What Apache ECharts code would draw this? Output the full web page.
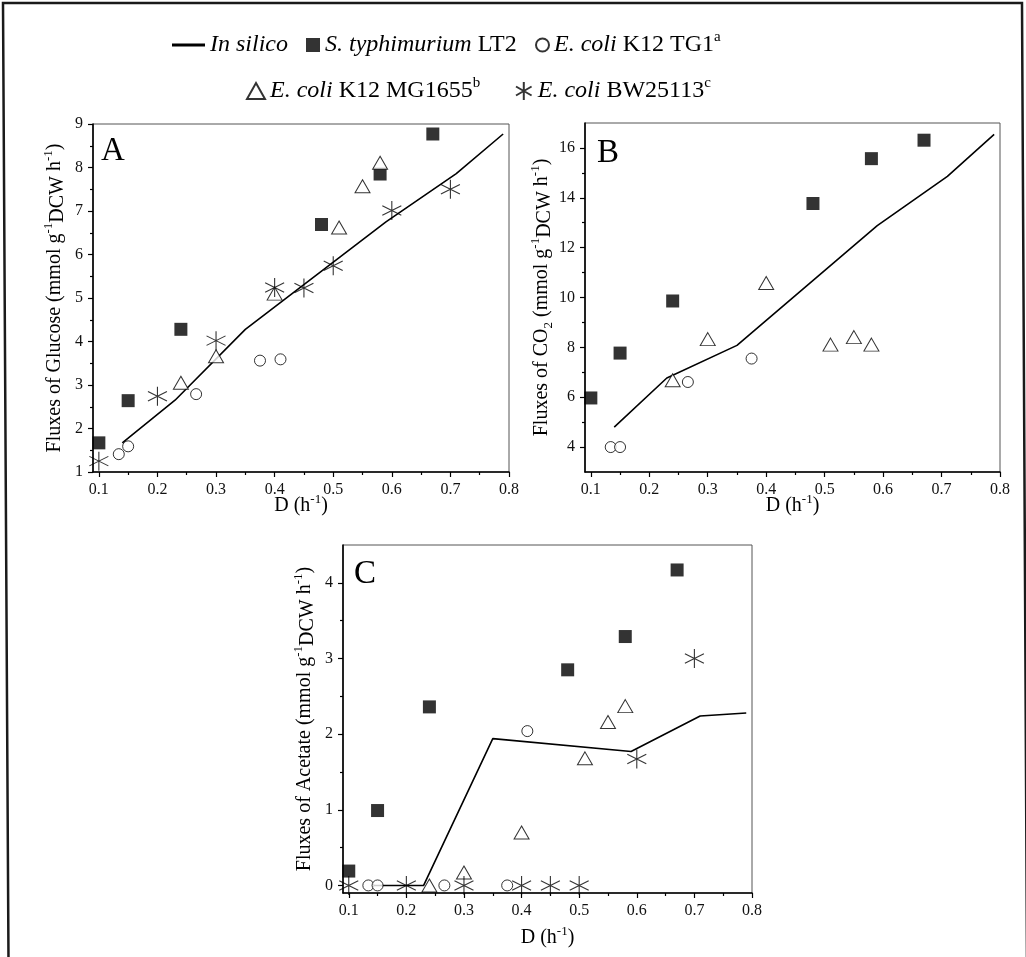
<!DOCTYPE html>
<html>
<head>
<meta charset="utf-8">
<script src="https://cdn.jsdelivr.net/npm/echarts@6/dist/echarts.min.js"></script>
<style>
  html, body { margin: 0; padding: 0; background: #fff; }
  #chart { width: 1026px; height: 957px; }
</style>
</head>
<body>
<div id="chart"></div>
<script>
// ---- Data: fluxes vs. dilution rate D (h^-1) ----
// In silico prediction
const inSilicoD       = [0.14, 0.23, 0.35, 0.59, 0.71, 0.79];
const inSilicoGlucose = [1.67, 2.65, 4.28, 6.75, 7.86, 8.77];
const inSilicoCO2     = [4.80, 6.77, 8.08, 12.88, 14.86, 16.54];
const inSilicoAcetate = [0, 0, 1.94, 1.77, 2.24, 2.28];

// S. typhimurium LT2
const lt2D       = [0.10, 0.15, 0.24, 0.48, 0.58, 0.67];
const lt2Glucose = [1.67, 2.64, 4.28, 6.69, 7.85, 8.77];
const lt2CO2     = [5.97, 7.77, 9.86, 13.77, 15.57, 16.31];
const lt2Acetate = [0.19, 0.99, 2.36, 2.85, 3.29, 4.17];

// E. coli K12 TG1
const tg1D       = [0.134, 0.15, 0.266, 0.375, 0.41];
const tg1Glucose = [1.41, 1.59, 2.79, 3.56, 3.59];
const tg1CO2     = [4.00, 4.00, 6.61, 7.55, null];
const tg1Acetate = [0, 0, 0, 0, 2.04];

// E. coli K12 MG1655
const mgD       = [0.24, 0.30, 0.40, 0.51, 0.55, 0.58];
const mgGlucose = [3.05, 3.66, 5.10, 6.62, 7.57, 8.11];
const mgCO2     = [6.68, 8.33, 10.58, 8.11, 8.41, 8.11];
const mgAcetate = [0, 0.17, 0.70, 1.68, 2.16, 2.37];

// E. coli BW25113
const bwD       = [0.10, 0.20, 0.30, 0.40, 0.45, 0.50, 0.60, 0.70];
const bwGlucose = [1.25, 2.74, 4.02, 5.24, 5.23, 5.74, 7.01, 7.50];
const bwCO2     = [null, null, null, null, null, null, null, null];
const bwAcetate = [0, 0, 0, 0, 0, 0, 1.67, 3.00];

// Tick values
const xTickLabels  = [0.1, 0.2, 0.3, 0.4, 0.5, 0.6, 0.7, 0.8];
const xMinorTicks  = [0.15, 0.25, 0.35, 0.45, 0.55, 0.65, 0.75];
const yTicksA      = [1, 2, 3, 4, 5, 6, 7, 8, 9];
const yMinorA      = [1.5, 2.5, 3.5, 4.5, 5.5, 6.5, 7.5, 8.5];
const yTicksB      = [4, 6, 8, 10, 12, 14, 16];
const yMinorB      = [5, 7, 9, 11, 13, 15];
const yTicksC      = [0, 1, 2, 3, 4];
const yMinorC      = [0.5, 1.5, 2.5, 3.5];

// Series names / legend labels
const NAME_SIM = 'In silico';
const NAME_LT2 = 'S. typhimurium LT2';
const NAME_TG1 = 'E. coli K12 TG1';
const NAME_MG  = 'E. coli K12 MG1655';
const NAME_BW  = 'E. coli BW25113';

const SERIF = "'Liberation Serif', 'Times New Roman', serif";
const STAR_PATH = 'path://M10,0V20M1.34,5L18.66,15M1.34,15L18.66,5';
const LINE_PATH = 'path://M0,0H33V3H0Z';

const pair = (xs, ys) => xs.map((x, i) => [x, ys[i]]).filter(p => p[1] !== null);

// ---- Layout of the three panels ----
const panels = [
  { grid: { left: 93, top: 124, width: 416, height: 348 },
    yMin: 1, yMax: 9, yTicks: yTicksA, yMinor: yMinorA,
    yName: 'Fluxes of Glucose (mmol g{sup|-1}{sub|DCW} h{sup|-1})', yGap: 25, xGap: 21,
    sim: inSilicoGlucose, lt2: lt2Glucose, tg1: tg1Glucose, mg: mgGlucose, bw: bwGlucose },
  { grid: { left: 585, top: 123, width: 415, height: 349 },
    yMin: 3, yMax: 17, yTicks: yTicksB, yMinor: yMinorB,
    yName: 'Fluxes of CO{sub2|2} (mmol g{sup|-1}{sub|DCW} h{sup|-1})', yGap: 30, xGap: 21,
    sim: inSilicoCO2, lt2: lt2CO2, tg1: tg1CO2, mg: mgCO2, bw: bwCO2 },
  { grid: { left: 343, top: 545, width: 409, height: 348 },
    yMin: -0.1, yMax: 4.5, yTicks: yTicksC, yMinor: yMinorC,
    yName: 'Fluxes of Acetate (mmol g{sup|-1}{sub|DCW} h{sup|-1})', yGap: 25, xGap: 32,
    sim: inSilicoAcetate, lt2: lt2Acetate, tg1: tg1Acetate, mg: mgAcetate, bw: bwAcetate }
];

const nameRich = {
  sup:  { fontFamily: SERIF, fontSize: 13, lineHeight: 13, verticalAlign: 'top', color: '#000' },
  sub:  { fontFamily: SERIF, fontSize: 20, lineHeight: 20, verticalAlign: 'bottom', color: '#000' },
  sub2: { fontFamily: SERIF, fontSize: 13, lineHeight: 13, verticalAlign: 'bottom', color: '#000' }
};
const nameStyle = { fontFamily: SERIF, fontSize: 20, lineHeight: 26, color: '#000', rich: nameRich };
const labelStyle = { fontFamily: SERIF, fontSize: 16, color: '#111' };
const axisLineStyle = { color: '#000', width: 1.6 };

const grids = [], xAxes = [], yAxes = [], series = [];

panels.forEach((p, i) => {
  grids.push(Object.assign({ show: true, borderColor: '#555', borderWidth: 1, backgroundColor: 'transparent' }, p.grid));

  // main x axis: labels and major ticks
  xAxes.push({
    type: 'value', gridIndex: i, position: 'bottom', min: 0.09, max: 0.8,
    name: 'D (h{sup|-1})', nameLocation: 'middle', nameGap: p.xGap, nameMoveOverlap: false,
    nameTextStyle: nameStyle,
    axisLine: { show: true, onZero: false, lineStyle: axisLineStyle },
    axisTick: { show: true, inside: false, length: 5, customValues: xTickLabels, lineStyle: { color: '#000', width: 1.2 } },
    axisLabel: { show: true, customValues: xTickLabels, margin: 10, hideOverlap: false, ...labelStyle },
    splitLine: { show: false }
  });
  // minor x ticks
  xAxes.push({
    type: 'value', gridIndex: i, position: 'bottom', min: 0.09, max: 0.8,
    axisLine: { show: false, onZero: false },
    axisTick: { show: true, inside: false, length: 3, customValues: xMinorTicks, lineStyle: { color: '#000', width: 1.2 } },
    axisLabel: { show: false }, splitLine: { show: false }
  });
  // main y axis
  yAxes.push({
    type: 'value', gridIndex: i, position: 'left', min: p.yMin, max: p.yMax,
    name: p.yName, nameLocation: 'middle', nameGap: p.yGap, nameMoveOverlap: false,
    nameTextStyle: nameStyle,
    axisLine: { show: true, onZero: false, lineStyle: axisLineStyle },
    axisTick: { show: true, inside: false, length: 5, customValues: p.yTicks, lineStyle: { color: '#000', width: 1.2 } },
    axisLabel: { show: true, customValues: p.yTicks, margin: 10, ...labelStyle },
    splitLine: { show: false }
  });
  // minor y ticks
  yAxes.push({
    type: 'value', gridIndex: i, position: 'left', min: p.yMin, max: p.yMax,
    axisLine: { show: false, onZero: false },
    axisTick: { show: true, inside: false, length: 3, customValues: p.yMinor, lineStyle: { color: '#000', width: 1.2 } },
    axisLabel: { show: false }, splitLine: { show: false }
  });

  const ax = { xAxisIndex: 2 * i, yAxisIndex: 2 * i, silent: true, animation: false };

  series.push(Object.assign({
    name: NAME_SIM, type: 'line', data: pair(inSilicoD, p.sim),
    showSymbol: false, symbol: 'none', z: 2,
    lineStyle: { color: '#000', width: 1.6 }, itemStyle: { color: '#000' }
  }, ax));
  series.push(Object.assign({
    name: NAME_LT2, type: 'scatter', data: pair(lt2D, p.lt2),
    symbol: 'rect', symbolSize: 13, z: 3, itemStyle: { color: '#000' }
  }, ax));
  series.push(Object.assign({
    name: NAME_TG1, type: 'scatter', data: pair(tg1D, p.tg1),
    symbol: 'circle', symbolSize: 11, z: 3,
    itemStyle: { color: '#fff', borderColor: '#000', borderWidth: 1 }
  }, ax));
  series.push(Object.assign({
    name: NAME_MG, type: 'scatter', data: pair(mgD, p.mg),
    symbol: 'triangle', symbolSize: [15, 13], z: 3,
    itemStyle: { color: '#fff', borderColor: '#000', borderWidth: 1 }
  }, ax));
  series.push(Object.assign({
    name: NAME_BW, type: 'scatter', data: pair(bwD, p.bw),
    symbol: STAR_PATH, symbolSize: 19, z: 4,
    itemStyle: { color: 'rgba(0,0,0,0)', borderColor: '#000', borderWidth: 1.1 }
  }, ax));
});

// ---- Legend (two rows) ----
const legendRich = {
  it:  { fontFamily: SERIF, fontStyle: 'italic', fontSize: 24, lineHeight: 30, color: '#000' },
  sup: { fontFamily: SERIF, fontSize: 15, lineHeight: 15, verticalAlign: 'top', color: '#000' }
};
const legendLabels = {
  [NAME_SIM]: '{it|In silico}',
  [NAME_LT2]: '{it|S. typhimurium} LT2',
  [NAME_TG1]: '{it|E. coli} K12 TG1{sup|a}',
  [NAME_MG]:  '{it|E. coli} K12 MG1655{sup|b}',
  [NAME_BW]:  '{it|E. coli} BW25113{sup|c}'
};
function legendItem(name, icon, w, h, left, top) {
  return {
    data: [{ name: name, icon: icon }],
    left: left, top: top, padding: 0, itemGap: 0,
    itemWidth: w, itemHeight: h, selectedMode: false,
    formatter: n => legendLabels[n],
    textStyle: { fontFamily: SERIF, fontSize: 24, lineHeight: 30, color: '#000', rich: legendRich }
  };
}
const legends = [
  legendItem(NAME_SIM, LINE_PATH, 33, 3, 172, 30),
  legendItem(NAME_LT2, 'rect', 14, 14, 306, 30),
  legendItem(NAME_TG1, 'circle', 13, 13, 535, 30),
  legendItem(NAME_MG, 'triangle', 18, 16, 246, 76),
  legendItem(NAME_BW, STAR_PATH, 18, 18, 515, 76)
];

// ---- Panel letters ----
const letterStyle = { fontFamily: SERIF, fontSize: 33, fontWeight: 'normal', color: '#000' };
const titles = [
  { text: 'A', left: 101, top: 135, padding: 0, textStyle: letterStyle },
  { text: 'B', left: 597, top: 137, padding: 0, textStyle: letterStyle },
  { text: 'C', left: 354, top: 558, padding: 0, textStyle: letterStyle }
];

const chart = echarts.init(document.getElementById('chart'), null, { renderer: 'canvas' });
chart.setOption({
  animation: false,
  backgroundColor: '#fff',
  title: titles,
  legend: legends,
  grid: grids,
  xAxis: xAxes,
  yAxis: yAxes,
  series: series,
  graphic: [{
    type: 'polyline', silent: true, z: 100,
    shape: { points: [[8.5, 960], [3, 3], [1022, 3], [1027, 960]] },
    style: { stroke: '#1a1a1a', lineWidth: 2.5, fill: null }
  }]
});
</script>
</body>
</html>
